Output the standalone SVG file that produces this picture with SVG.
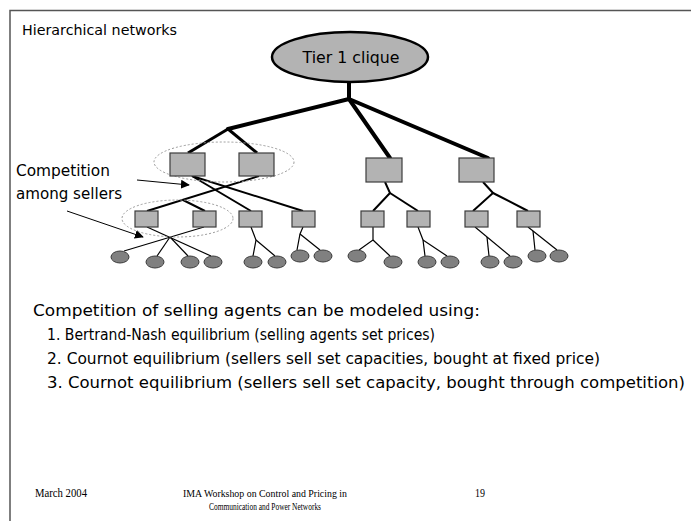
<svg xmlns="http://www.w3.org/2000/svg" width="691" height="521" viewBox="0 0 691 521">
  <defs>
    <marker id="arrowhead" viewBox="0 0 10 10" refX="9" refY="5" markerWidth="9" markerHeight="9" markerUnits="userSpaceOnUse" orient="auto">
      <path d="M0,0 L10,5 L0,10 z" fill="#000"/>
    </marker>
  </defs>
  <style>
    .frame { fill: none; stroke: #555; stroke-width: 1.5; }
    .casual { font-family: "DejaVu Sans", "Liberation Sans", sans-serif; fill: #000; }
    .serif { font-family: "Liberation Serif", "Times New Roman", serif; fill: #000; }
    .sq { fill: #b3b3b3; stroke: #3c3c3c; stroke-width: 1.2; }
    .leaf { fill: #808080; stroke: #3c3c3c; stroke-width: 1; }
    .clique { fill: #b3b3b3; stroke: #000; stroke-width: 2.5; }
    .group { fill: none; stroke: #9a9a9a; stroke-width: 1; stroke-dasharray: 2 2; }
    .l0 { stroke: #000; stroke-width: 4; fill: none; stroke-linecap: round; }
    .l1 { stroke: #000; stroke-width: 3; fill: none; }
    .l2 { stroke: #000; stroke-width: 2; fill: none; }
    .l3 { stroke: #000; stroke-width: 1.2; fill: none; }
    .pointer { stroke: #000; stroke-width: 1; fill: none; marker-end: url(#arrowhead); }
  </style>

  <!-- slide frame -->
  <polyline class="frame" points="10,521 10,10.5 691,10.5"/>

  <text class="casual" x="22" y="35" font-size="14" textLength="155" lengthAdjust="spacingAndGlyphs">Hierarchical networks</text>

  <!-- connectors -->
  <g id="connectors">
    <!-- tier 1 to first level -->
    <line class="l0" x1="349" y1="82" x2="349" y2="99"/>
    <line class="l0" x1="349" y1="99" x2="228" y2="129"/>
    <line class="l0" x1="349" y1="99" x2="390" y2="158"/>
    <line class="l0" x1="349" y1="99" x2="488" y2="158"/>
    <line class="l1" x1="228" y1="129" x2="188" y2="153"/>
    <line class="l1" x1="228" y1="129" x2="257" y2="153"/>
    <!-- first level to second level -->
    <line class="l2" x1="192" y1="176" x2="251" y2="211"/>
    <line class="l2" x1="192" y1="176" x2="303" y2="211"/>
    <line class="l2" x1="259" y1="176" x2="147" y2="211"/>
    <line class="l2" x1="183" y1="200" x2="205" y2="211"/>
    <polyline class="l2" points="385,182 390,193 373,211"/>
    <line class="l2" x1="390" y1="193" x2="418" y2="211"/>
    <polyline class="l2" points="483,182 493,193 473,211"/>
    <line class="l2" x1="493" y1="193" x2="528" y2="211"/>
    <!-- second level to leaves -->
    <line class="l3" x1="147" y1="227" x2="211" y2="256"/>
    <line class="l3" x1="204" y1="227" x2="124" y2="251"/>
    <line class="l3" x1="170" y1="237" x2="157" y2="256"/>
    <line class="l3" x1="170" y1="237" x2="188" y2="256"/>
    <polyline class="l3" points="251,227 256,240 253,256"/>
    <line class="l3" x1="256" y1="240" x2="275" y2="256"/>
    <polyline class="l3" points="303,227 300,234 297,250"/>
    <line class="l3" x1="300" y1="234" x2="320" y2="250"/>
    <polyline class="l3" points="373,227 373,240 359,250"/>
    <line class="l3" x1="373" y1="240" x2="390" y2="256"/>
    <polyline class="l3" points="418,227 423,240 425,256"/>
    <line class="l3" x1="423" y1="240" x2="447" y2="256"/>
    <line class="l3" x1="475" y1="227" x2="510" y2="256"/>
    <line class="l3" x1="487" y1="237" x2="489" y2="256"/>
    <line class="l3" x1="528" y1="227" x2="557" y2="250"/>
    <line class="l3" x1="533" y1="231" x2="535" y2="250"/>
    <!-- pointers from the caption -->
    <line class="pointer" x1="137" y1="180" x2="189" y2="185"/>
    <line class="pointer" x1="67" y1="211" x2="143" y2="237"/>
  </g>

  <!-- seller groups -->
  <ellipse class="group" cx="224" cy="162" rx="70" ry="20"/>
  <ellipse class="group" cx="177.5" cy="218.5" rx="55.5" ry="18.5"/>

  <g id="tier1">
    <ellipse class="clique" cx="350" cy="57" rx="78" ry="25"/>
    <text class="casual" x="351" y="63" font-size="15" text-anchor="middle" textLength="97" lengthAdjust="spacingAndGlyphs">Tier 1 clique</text>
  </g>

  <!-- first level -->
  <g id="n1a"><rect class="sq" x="170" y="153" width="35" height="23"/></g>
  <g id="n1b"><rect class="sq" x="239" y="153" width="35" height="23"/></g>
  <g id="n1c"><rect class="sq" x="366" y="158" width="36" height="24"/></g>
  <g id="n1d"><rect class="sq" x="459" y="158" width="35" height="24"/></g>

  <!-- second level -->
  <g id="n2a"><rect class="sq" x="135" y="211" width="23" height="16"/></g>
  <g id="n2b"><rect class="sq" x="193" y="211" width="23" height="16"/></g>
  <g id="n2c"><rect class="sq" x="239" y="211" width="23" height="16"/></g>
  <g id="n2d"><rect class="sq" x="292" y="211" width="23" height="16"/></g>
  <g id="n2e"><rect class="sq" x="361" y="211" width="23" height="16"/></g>
  <g id="n2f"><rect class="sq" x="407" y="211" width="23" height="16"/></g>
  <g id="n2g"><rect class="sq" x="465" y="211" width="23" height="16"/></g>
  <g id="n2h"><rect class="sq" x="517" y="211" width="23" height="16"/></g>

  <!-- leaves -->
  <g id="leaf1"><ellipse class="leaf" cx="120" cy="257" rx="9" ry="6"/></g>
  <g id="leaf2"><ellipse class="leaf" cx="155" cy="262" rx="9" ry="6"/></g>
  <g id="leaf3"><ellipse class="leaf" cx="190" cy="262" rx="9" ry="6"/></g>
  <g id="leaf4"><ellipse class="leaf" cx="213" cy="262" rx="9" ry="6"/></g>
  <g id="leaf5"><ellipse class="leaf" cx="253" cy="262" rx="9" ry="6"/></g>
  <g id="leaf6"><ellipse class="leaf" cx="277" cy="262" rx="9" ry="6"/></g>
  <g id="leaf7"><ellipse class="leaf" cx="300" cy="256" rx="9" ry="6"/></g>
  <g id="leaf8"><ellipse class="leaf" cx="323" cy="256" rx="9" ry="6"/></g>
  <g id="leaf9"><ellipse class="leaf" cx="357" cy="256" rx="9" ry="6"/></g>
  <g id="leaf10"><ellipse class="leaf" cx="393" cy="262" rx="9" ry="6"/></g>
  <g id="leaf11"><ellipse class="leaf" cx="427" cy="262" rx="9" ry="6"/></g>
  <g id="leaf12"><ellipse class="leaf" cx="450" cy="262" rx="9" ry="6"/></g>
  <g id="leaf13"><ellipse class="leaf" cx="490" cy="262" rx="9" ry="6"/></g>
  <g id="leaf14"><ellipse class="leaf" cx="513" cy="262" rx="9" ry="6"/></g>
  <g id="leaf15"><ellipse class="leaf" cx="537" cy="256" rx="9" ry="6"/></g>
  <g id="leaf16"><ellipse class="leaf" cx="559" cy="256" rx="9" ry="6"/></g>

  <g id="caption">
    <text class="casual" x="16" y="176" font-size="16" textLength="94" lengthAdjust="spacingAndGlyphs">Competition</text>
    <text class="casual" x="16" y="199" font-size="16" textLength="106" lengthAdjust="spacingAndGlyphs">among sellers</text>
  </g>

  <g id="body">
    <text class="casual" x="33" y="316" font-size="16" textLength="447" lengthAdjust="spacingAndGlyphs">Competition of selling agents can be modeled using:</text>
    <text class="casual" x="47" y="340" font-size="16" textLength="388" lengthAdjust="spacingAndGlyphs">1. Bertrand-Nash equilibrium (selling agents set prices)</text>
    <text class="casual" x="47" y="364" font-size="16" textLength="553" lengthAdjust="spacingAndGlyphs">2. Cournot equilibrium (sellers sell set capacities, bought at fixed price)</text>
    <text class="casual" x="47" y="388" font-size="16" textLength="638" lengthAdjust="spacingAndGlyphs">3. Cournot equilibrium (sellers sell set capacity, bought through competition)</text>
  </g>

  <g id="footer">
    <text class="serif" x="35" y="497" font-size="12" textLength="52" lengthAdjust="spacingAndGlyphs">March 2004</text>
    <text class="serif" x="265" y="497" font-size="10" text-anchor="middle" textLength="164" lengthAdjust="spacingAndGlyphs">IMA Workshop on Control and Pricing in</text>
    <text class="serif" x="265" y="510" font-size="10" text-anchor="middle" textLength="112" lengthAdjust="spacingAndGlyphs">Communication and Power Networks</text>
    <text class="serif" x="475" y="497" font-size="12" textLength="10" lengthAdjust="spacingAndGlyphs">19</text>
  </g>
</svg>
